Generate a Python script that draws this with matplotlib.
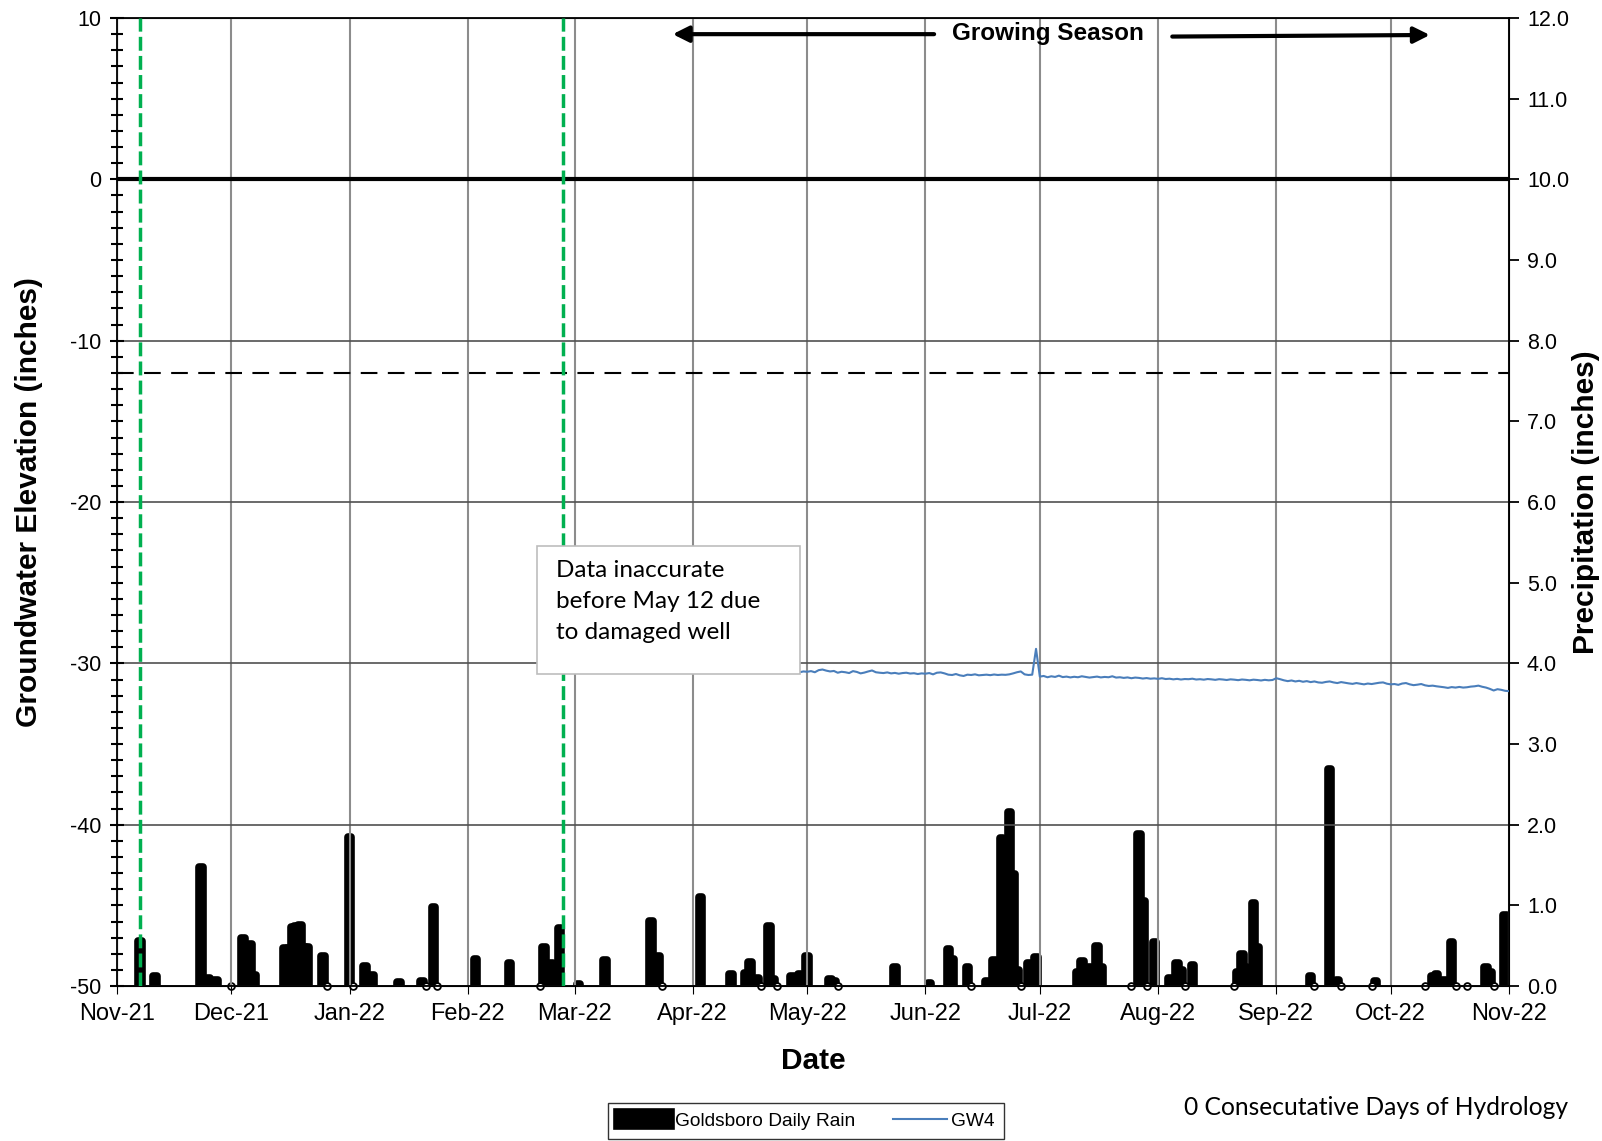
import matplotlib
matplotlib.use("Agg")
import matplotlib.pyplot as plt
import matplotlib.dates as mdates
import matplotlib.ticker as mticker
from matplotlib.patches import Rectangle
import pandas as pd

plt.rcParams["font.family"] = ["Liberation Sans", "DejaVu Sans"]
plt.rcParams["axes.unicode_minus"] = False

# daily rain (inches), Goldsboro
rain_dates = [
    "2021-11-07", "2021-11-11", "2021-11-23", "2021-11-25", "2021-11-27",
    "2021-12-04", "2021-12-06", "2021-12-07", "2021-12-15", "2021-12-16",
    "2021-12-17", "2021-12-18", "2021-12-19", "2021-12-20", "2021-12-21",
    "2021-12-25", "2022-01-01", "2022-01-05", "2022-01-07", "2022-01-14",
    "2022-01-20", "2022-01-23", "2022-02-03", "2022-02-12", "2022-02-21",
    "2022-02-23", "2022-02-25", "2022-03-02", "2022-03-09", "2022-03-21",
    "2022-03-23", "2022-04-03", "2022-04-11", "2022-04-15", "2022-04-16",
    "2022-04-18", "2022-04-21", "2022-04-22", "2022-04-27", "2022-04-29",
    "2022-05-01", "2022-05-07", "2022-05-08", "2022-05-24", "2022-06-02",
    "2022-06-07", "2022-06-08", "2022-06-12", "2022-06-17", "2022-06-19",
    "2022-06-21", "2022-06-23", "2022-06-24", "2022-06-25", "2022-06-28",
    "2022-06-30", "2022-07-11", "2022-07-12", "2022-07-14", "2022-07-16",
    "2022-07-17", "2022-07-27", "2022-07-28", "2022-07-31", "2022-08-04",
    "2022-08-06", "2022-08-07", "2022-08-10", "2022-08-22", "2022-08-23",
    "2022-08-24", "2022-08-26", "2022-08-27", "2022-09-10", "2022-09-15",
    "2022-09-17", "2022-09-27", "2022-10-12", "2022-10-13", "2022-10-15",
    "2022-10-17", "2022-10-26", "2022-10-27", "2022-10-31",
]
rain_inches = [
    0.56, 0.12, 1.48, 0.10, 0.07,
    0.59, 0.52, 0.14, 0.47, 0.47,
    0.73, 0.74, 0.76, 0.48, 0.48,
    0.37, 1.85, 0.25, 0.14, 0.05,
    0.06, 0.98, 0.33, 0.28, 0.48,
    0.29, 0.72, 0.03, 0.32, 0.81,
    0.37, 1.10, 0.15, 0.16, 0.30,
    0.10, 0.75, 0.09, 0.12, 0.15,
    0.37, 0.09, 0.06, 0.23, 0.04,
    0.46, 0.34, 0.24, 0.06, 0.32,
    1.83, 2.16, 1.39, 0.20, 0.29,
    0.36, 0.18, 0.31, 0.24, 0.50,
    0.24, 1.88, 1.06, 0.54, 0.10,
    0.28, 0.20, 0.26, 0.17, 0.40,
    0.23, 1.03, 0.48, 0.12, 2.69,
    0.08, 0.06, 0.13, 0.15, 0.08,
    0.54, 0.24, 0.18, 0.88,
]
# days recorded with 0.00 in (open circles)
zero_rain_dates = [
    "2021-12-01", "2021-12-26", "2022-01-02", "2022-01-21", "2022-01-24",
    "2022-02-20", "2022-03-24", "2022-04-19", "2022-04-23", "2022-05-09",
    "2022-06-13", "2022-06-26", "2022-07-25", "2022-07-29", "2022-08-08",
    "2022-08-21", "2022-09-11", "2022-09-18", "2022-09-26", "2022-10-10",
    "2022-10-18", "2022-10-21", "2022-10-28",
]

# GW4 daily groundwater elevation (inches), starting 2022-04-29
gw4_start = "2022-04-29"
gw4 = [
    -30.55, -30.50,
    -30.52, -30.48, -30.55, -30.42, -30.38, -30.45, -30.50, -30.47, -30.58, -30.52,
    -30.55, -30.60, -30.48, -30.53, -30.62, -30.57, -30.50, -30.44, -30.55, -30.58,
    -30.60, -30.56, -30.62, -30.59, -30.64, -30.60, -30.58, -30.63, -30.61, -30.66,
    -30.62,
    -30.64, -30.60, -30.68, -30.58, -30.56, -30.62, -30.70, -30.72, -30.66, -30.74,
    -30.78, -30.70, -30.72, -30.68, -30.74, -30.72, -30.70, -30.73, -30.69, -30.72,
    -30.70, -30.71, -30.68, -30.62, -30.55, -30.50, -30.68, -30.72, -30.70, -29.10,
    -30.82, -30.78, -30.86, -30.80, -30.84, -30.76, -30.85, -30.82, -30.87, -30.83,
    -30.86, -30.80, -30.84, -30.88, -30.85, -30.82, -30.87, -30.84, -30.86, -30.80,
    -30.88, -30.86, -30.90, -30.87, -30.92, -30.88, -30.90, -30.94, -30.91, -30.95,
    -30.93,
    -30.96, -30.92, -30.97, -30.95, -30.99, -30.96, -31.00, -30.97, -30.98, -30.95,
    -31.00, -30.98, -31.01, -30.97, -30.99, -31.02, -30.98, -31.00, -31.03, -30.99,
    -31.01, -31.04, -31.00, -31.02, -31.05, -31.01, -31.03, -31.06, -31.02, -31.05,
    -31.03,
    -30.92, -30.98, -31.05, -31.10, -31.06, -31.12, -31.08, -31.14, -31.10, -31.16,
    -31.12, -31.18, -31.20, -31.15, -31.12, -31.18, -31.22, -31.16, -31.20, -31.24,
    -31.27, -31.22, -31.26, -31.30, -31.25, -31.28, -31.24, -31.20, -31.18, -31.26,
    -31.30, -31.28, -31.33, -31.25, -31.22, -31.30, -31.35, -31.32, -31.28, -31.36,
    -31.40, -31.38, -31.42, -31.45, -31.48, -31.52, -31.47, -31.50, -31.46, -31.50,
    -31.48, -31.44, -31.42, -31.38, -31.45, -31.50, -31.58, -31.68, -31.60, -31.64,
    -31.70,
    -31.72,
]

x_start, x_end = pd.Timestamp("2021-11-01"), pd.Timestamp("2022-11-01")
green_lines = ["2021-11-07", "2022-02-26"]
criteria_line = -12

rain_x = pd.to_datetime(rain_dates)
zero_x = pd.to_datetime(zero_rain_dates)
gw4_x = pd.date_range(gw4_start, periods=len(gw4), freq="D")

fig = plt.figure(figsize=(16.02, 11.41), dpi=100)
ax = fig.add_axes([0.0730, 0.1358, 0.8689, 0.8484])
ax2 = ax.twinx()

# groundwater axis
ax.set_xlim(x_start, x_end)
ax.set_ylim(-50, 10)
ax.yaxis.set_major_locator(mticker.MultipleLocator(10))
ax.yaxis.set_minor_locator(mticker.MultipleLocator(1))
ax.tick_params(axis="y", which="major", direction="inout", length=10, width=1.5,
               labelsize=15.5, pad=6)
ax.tick_params(axis="y", which="minor", direction="inout", length=8, width=1.5)
ax.xaxis.set_major_locator(mdates.MonthLocator())
ax.xaxis.set_major_formatter(mdates.DateFormatter("%b-%y"))
ax.tick_params(axis="x", direction="out", length=6, labelsize=17, pad=6)
ax.grid(axis="x", color="#8c8c8c", lw=1.5)
ax.grid(axis="y", color="#505050", lw=1.2)
ax.set_axisbelow(True)
for s in ax.spines.values():
    s.set_linewidth(1.3)

ax.axhline(0, color="black", lw=3, zorder=3)
ax.axhline(criteria_line, color="black", lw=1.5, dashes=(8, 5), zorder=3)
for g in green_lines:
    ax.axvline(pd.Timestamp(g), color="#00b050", lw=2.5, dashes=(4, 1.5), zorder=6)

gw_line, = ax.plot(gw4_x, gw4, color="#4a7ebb", lw=1.5, zorder=4, label="GW4")

ax.set_xlabel("Date", fontsize=21.5, fontweight="bold", labelpad=16)
ax.set_ylabel("Groundwater Elevation (inches)", fontsize=21.5, fontweight="bold", labelpad=20)

# precipitation axis
ax2.set_ylim(0, 12)
ax2.yaxis.set_major_locator(mticker.MultipleLocator(1))
ax2.yaxis.set_major_formatter(mticker.FormatStrFormatter("%.1f"))
ax2.tick_params(axis="y", direction="out", length=7, width=1.3, labelsize=15.5, pad=6)
ax2.set_ylabel("Precipitation (inches)", fontsize=21.5, fontweight="bold", labelpad=2)
bars = ax2.bar(rain_x, rain_inches, width=0.9, color="black", edgecolor="black",
               lw=5.5, joinstyle="round", zorder=3, label="Goldsboro Daily Rain")
ax2.scatter(zero_x, [0] * len(zero_x), s=24, facecolor="white", edgecolor="black",
            lw=1.3, zorder=4, clip_on=False)
ax2.set_zorder(ax.get_zorder() + 1)
ax.set_zorder(ax2.get_zorder() + 1)
ax.patch.set_visible(False)

# growing season arrows
ax.annotate("", xy=(pd.Timestamp("2022-03-26"), 9.0), xytext=(pd.Timestamp("2022-06-04"), 9.0),
            arrowprops=dict(arrowstyle="-|>", lw=3, color="black", mutation_scale=24))
ax.annotate("", xy=(pd.Timestamp("2022-10-12"), 8.95), xytext=(pd.Timestamp("2022-08-04"), 8.85),
            arrowprops=dict(arrowstyle="-|>", lw=3, color="black", mutation_scale=24))
ax.text(pd.Timestamp("2022-07-03"), 9.05, "Growing Season", ha="center", va="center",
        fontsize=17.5, fontweight="bold")

# note box
ax.add_patch(Rectangle((0.3017, 0.3223), 0.189, 0.1322, transform=ax.transAxes,
                       facecolor="white", edgecolor="#bdbdbd", lw=1.2, zorder=8))
ax.text(0.3154, 0.4405, "Data inaccurate\nbefore May 12 due\nto damaged well",
        transform=ax.transAxes, ha="left", va="top", fontsize=17.5, family="Lato",
        linespacing=1.6, zorder=9)

fig.legend([bars, gw_line], ["Goldsboro Daily Rain", "GW4"], ncol=2, loc="center",
           bbox_to_anchor=(0.503, 0.0175), frameon=True, fancybox=False,
           edgecolor="black", fontsize=13.8, handlelength=2.8, handletextpad=0.2,
           columnspacing=2.0, borderpad=0.5)

fig.text(0.979, 0.029, "0 Consecutative Days of Hydrology", ha="right", va="center",
         fontsize=17.7, family="Lato")

fig.savefig("out.png", dpi=100)
